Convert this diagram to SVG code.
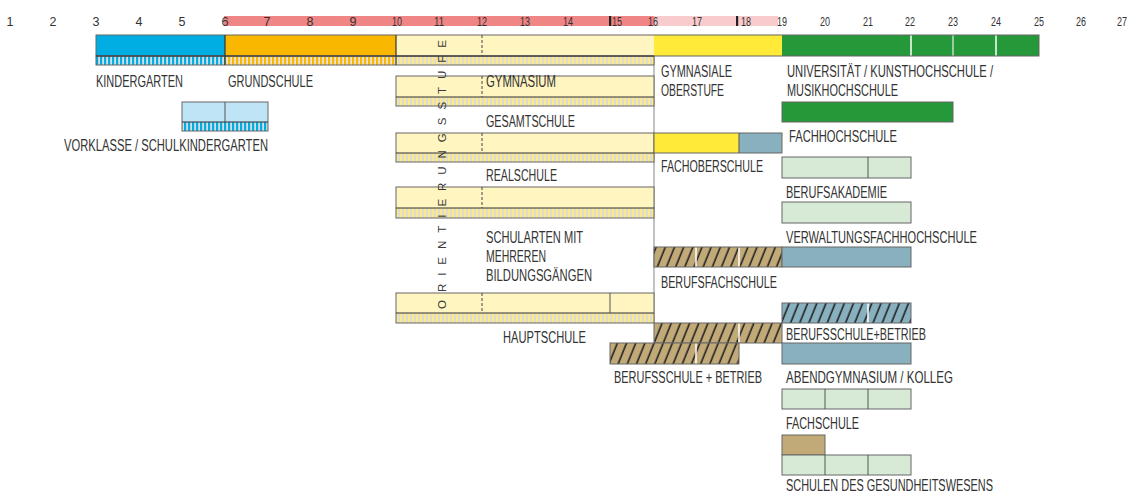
<svg xmlns="http://www.w3.org/2000/svg" width="1130" height="498" viewBox="0 0 1130 498">
<style>
.t{font-family:"Liberation Sans",Arial,sans-serif;font-size:16px;fill:#333}
.n{font-family:"Liberation Sans",Arial,sans-serif;font-size:12.5px;fill:#333;text-anchor:middle}
.o{font-family:"Liberation Sans",Arial,sans-serif;font-size:11.5px;fill:#3a3a3a}
.b{stroke:#666;stroke-width:1}
.sep{stroke:#333;stroke-width:1.2}
.dash{stroke:#444;stroke-width:1;stroke-dasharray:3 2}
.wd{stroke:#fff;stroke-width:1.5}
.dv{stroke:#555;stroke-width:1}
.pale{fill:#fff5c0}
.blue{fill:#00aee3}
.orange{fill:#f9b700}
.yel{fill:#ffea3a}
.green{fill:#25983a}
.bg{fill:#88b0bf}
.lg{fill:#d6ead6}
.br{fill:#c2aa78}
.lb{fill:#bfe4f6}
</style>
<defs>
<pattern id="sBlue" patternUnits="userSpaceOnUse" width="4" height="10"><rect width="4" height="10" fill="#d9dde0"/><rect width="2.2" height="10" fill="#00aee3"/></pattern>
<pattern id="sOrange" patternUnits="userSpaceOnUse" width="4" height="10"><rect width="4" height="10" fill="#e6e3dc"/><rect width="2.2" height="10" fill="#f9b700"/></pattern>
<pattern id="sYel" patternUnits="userSpaceOnUse" width="4" height="10"><rect width="4" height="10" fill="#dcdcd6"/><rect width="2.2" height="10" fill="#fbe98c"/></pattern>
<pattern id="hatch" patternUnits="userSpaceOnUse" width="8.5" height="8" patternTransform="rotate(22)"><line x1="4" y1="0" x2="4" y2="8" stroke="#222" stroke-width="1.6"/></pattern>
</defs>

<g id="ruler">
<rect x="224" y="16" width="430" height="10" fill="#ef8585"/>
<rect x="654" y="16" width="124" height="10" fill="#f8cccc"/>
<rect x="609" y="16" width="2.2" height="10" fill="#222"/>
<rect x="736" y="16" width="2.2" height="10" fill="#222"/>
<text class="n" x="10" y="26">1</text>
<text class="n" x="53" y="26">2</text>
<text class="n" x="96" y="26">3</text>
<text class="n" x="139" y="26">4</text>
<text class="n" x="182" y="26">5</text>
<text class="n" x="225" y="26">6</text>
<text class="n" x="267" y="26">7</text>
<text class="n" x="310" y="26">8</text>
<text class="n" x="353" y="26">9</text>
<text class="n" x="397" y="26" textLength="10" lengthAdjust="spacingAndGlyphs">10</text>
<text class="n" x="439" y="26" textLength="10" lengthAdjust="spacingAndGlyphs">11</text>
<text class="n" x="482" y="26" textLength="10" lengthAdjust="spacingAndGlyphs">12</text>
<text class="n" x="525" y="26" textLength="10" lengthAdjust="spacingAndGlyphs">13</text>
<text class="n" x="568" y="26" textLength="10" lengthAdjust="spacingAndGlyphs">14</text>
<text class="n" x="617" y="26" textLength="10" lengthAdjust="spacingAndGlyphs">15</text>
<text class="n" x="653" y="26" textLength="10" lengthAdjust="spacingAndGlyphs">16</text>
<text class="n" x="697" y="26" textLength="10" lengthAdjust="spacingAndGlyphs">17</text>
<text class="n" x="746" y="26" textLength="10" lengthAdjust="spacingAndGlyphs">18</text>
<text class="n" x="782" y="26" textLength="10" lengthAdjust="spacingAndGlyphs">19</text>
<text class="n" x="825" y="26" textLength="10" lengthAdjust="spacingAndGlyphs">20</text>
<text class="n" x="868" y="26" textLength="10" lengthAdjust="spacingAndGlyphs">21</text>
<text class="n" x="910" y="26" textLength="10" lengthAdjust="spacingAndGlyphs">22</text>
<text class="n" x="953" y="26" textLength="10" lengthAdjust="spacingAndGlyphs">23</text>
<text class="n" x="996" y="26" textLength="10" lengthAdjust="spacingAndGlyphs">24</text>
<text class="n" x="1039" y="26" textLength="10" lengthAdjust="spacingAndGlyphs">25</text>
<text class="n" x="1081" y="26" textLength="10" lengthAdjust="spacingAndGlyphs">26</text>
<text class="n" x="1122" y="26" textLength="10" lengthAdjust="spacingAndGlyphs">27</text>
</g>

<g id="lines">
<line x1="654" y1="35" x2="654" y2="323" stroke="#9a9a9a" stroke-width="1.2"/>
</g>

<g id="kindergarten">
<rect class="blue" x="96" y="35" width="129" height="21"/>
<rect x="96" y="56" width="129" height="9" fill="url(#sBlue)"/>
<text class="t" x="96" y="87" textLength="87" lengthAdjust="spacingAndGlyphs">KINDERGARTEN</text>
</g>
<g id="grundschule">
<rect class="orange" x="225" y="35" width="171" height="21"/>
<rect x="225" y="56" width="171" height="9" fill="url(#sOrange)"/>
<text class="t" x="228" y="87" textLength="85" lengthAdjust="spacingAndGlyphs">GRUNDSCHULE</text>
</g>
<g id="orientierung-main">
<rect class="pale" x="396" y="35" width="258" height="21"/>
<rect x="396" y="56" width="258" height="9" fill="url(#sYel)"/>
<line class="dash" x1="482" y1="35" x2="482" y2="56"/>
</g>
<g id="gymnasiale-oberstufe">
<rect class="yel" x="654" y="35" width="128" height="21"/>
<text class="t" x="661" y="77" textLength="71" lengthAdjust="spacingAndGlyphs">GYMNASIALE</text>
<text class="t" x="661" y="96" textLength="63" lengthAdjust="spacingAndGlyphs">OBERSTUFE</text>
</g>
<g id="universitaet">
<rect class="green" x="782" y="35" width="257" height="21"/>
<line class="wd" x1="911" y1="35" x2="911" y2="56"/>
<line class="wd" x1="953" y1="35" x2="953" y2="56" stroke-opacity="0.7"/>
<line class="wd" x1="996" y1="35" x2="996" y2="56"/>
<text class="t" x="787" y="77" textLength="206" lengthAdjust="spacingAndGlyphs">UNIVERSITÄT / KUNSTHOCHSCHULE /</text>
<text class="t" x="787" y="96" textLength="111" lengthAdjust="spacingAndGlyphs">MUSIKHOCHSCHULE</text>
</g>
<g id="mainbar-frame">
<rect x="96" y="35" width="943" height="21" fill="none" class="b"/>
<rect x="96" y="56" width="558" height="9" fill="none" class="b"/>
<line class="sep" x1="96" y1="56" x2="654" y2="56"/>
<line class="sep" x1="225" y1="35" x2="225" y2="65"/>
<line class="sep" x1="396" y1="35" x2="396" y2="65"/>
</g>

<g id="vorklasse">
<rect class="lb" x="182" y="102" width="86" height="20"/>
<rect x="182" y="122" width="86" height="9" fill="url(#sBlue)"/>
<rect x="182" y="102" width="86" height="29" fill="none" class="b"/>
<line class="dv" x1="225" y1="102" x2="225" y2="122"/>
<line class="sep" x1="182" y1="122" x2="268" y2="122"/>
<text class="t" x="64" y="151" textLength="204" lengthAdjust="spacingAndGlyphs">VORKLASSE / SCHULKINDERGARTEN</text>
</g>

<g id="gymnasium">
<rect class="pale" x="396" y="76" width="258" height="21"/>
<rect x="396" y="97" width="258" height="9" fill="url(#sYel)"/>
<rect x="396" y="76" width="258" height="30" fill="none" class="b"/>
<line class="sep" x1="396" y1="97" x2="654" y2="97"/>
<line class="dash" x1="482" y1="76" x2="482" y2="97"/>
<text class="t" x="486" y="87" textLength="70" lengthAdjust="spacingAndGlyphs">GYMNASIUM</text>
</g>
<g id="gesamtschule">
<rect class="pale" x="396" y="133" width="258" height="20"/>
<rect x="396" y="153" width="258" height="9" fill="url(#sYel)"/>
<rect x="396" y="133" width="258" height="29" fill="none" class="b"/>
<line class="sep" x1="396" y1="153" x2="654" y2="153"/>
<line class="dash" x1="482" y1="133" x2="482" y2="153"/>
<text class="t" x="486" y="127" textLength="89" lengthAdjust="spacingAndGlyphs">GESAMTSCHULE</text>
</g>
<g id="realschule">
<rect class="pale" x="396" y="187" width="258" height="21"/>
<rect x="396" y="208" width="258" height="10" fill="url(#sYel)"/>
<rect x="396" y="187" width="258" height="31" fill="none" class="b"/>
<line class="sep" x1="396" y1="208" x2="654" y2="208"/>
<line class="dash" x1="482" y1="187" x2="482" y2="208"/>
<text class="t" x="486" y="181" textLength="71" lengthAdjust="spacingAndGlyphs">REALSCHULE</text>
</g>
<g id="schularten">
<text class="t" x="486" y="243" textLength="97" lengthAdjust="spacingAndGlyphs">SCHULARTEN MIT</text>
<text class="t" x="486" y="262" textLength="60" lengthAdjust="spacingAndGlyphs">MEHREREN</text>
<text class="t" x="486" y="281" textLength="106" lengthAdjust="spacingAndGlyphs">BILDUNGSGÄNGEN</text>
</g>
<g id="hauptschule">
<rect class="pale" x="396" y="293" width="258" height="20"/>
<rect x="396" y="313" width="258" height="10" fill="url(#sYel)"/>
<rect x="396" y="293" width="258" height="30" fill="none" class="b"/>
<line class="sep" x1="396" y1="313" x2="654" y2="313"/>
<line class="dash" x1="482" y1="293" x2="482" y2="313"/>
<line class="dv" x1="610" y1="293" x2="610" y2="313"/>
<text class="t" x="503" y="343" textLength="83" lengthAdjust="spacingAndGlyphs">HAUPTSCHULE</text>
</g>

<g id="fachoberschule">
<rect class="yel" x="654" y="133" width="85" height="20"/>
<rect class="bg" x="739" y="133" width="43" height="20"/>
<rect x="654" y="133" width="128" height="20" fill="none" class="b"/>
<line class="dv" x1="739" y1="133" x2="739" y2="153"/>
<text class="t" x="661" y="172" textLength="102" lengthAdjust="spacingAndGlyphs">FACHOBERSCHULE</text>
</g>
<g id="fachhochschule">
<rect class="green b" x="782" y="102" width="171" height="20"/>
<text class="t" x="789" y="142" textLength="108" lengthAdjust="spacingAndGlyphs">FACHHOCHSCHULE</text>
</g>
<g id="berufsakademie">
<rect class="lg b" x="782" y="157" width="129" height="21"/>
<line class="dv" x1="868" y1="157" x2="868" y2="178"/>
<text class="t" x="786" y="198" textLength="101" lengthAdjust="spacingAndGlyphs">BERUFSAKADEMIE</text>
</g>
<g id="verwaltungsfachhochschule">
<rect class="lg b" x="782" y="202" width="129" height="21"/>
<text class="t" x="786" y="243" textLength="191" lengthAdjust="spacingAndGlyphs">VERWALTUNGSFACHHOCHSCHULE</text>
</g>
<g id="berufsfachschule">
<rect class="br" x="654" y="247" width="128" height="20"/>
<rect x="654" y="247" width="128" height="20" fill="url(#hatch)"/>
<line class="wd" x1="696" y1="247" x2="696" y2="267"/>
<line class="wd" x1="739" y1="247" x2="739" y2="267"/>
<rect x="654" y="247" width="128" height="20" fill="none" class="b"/>
<rect class="bg b" x="782" y="247" width="129" height="20"/>
<text class="t" x="661" y="288" textLength="116" lengthAdjust="spacingAndGlyphs">BERUFSFACHSCHULE</text>
</g>
<g id="berufsschule-betrieb-rechts">
<rect class="bg" x="782" y="303" width="129" height="20"/>
<rect x="782" y="303" width="129" height="20" fill="url(#hatch)"/>
<line class="wd" x1="868" y1="303" x2="868" y2="323"/>
<rect x="782" y="303" width="129" height="20" fill="none" class="b"/>
<text class="t" x="786" y="340" textLength="140" lengthAdjust="spacingAndGlyphs">BERUFSSCHULE+BETRIEB</text>
</g>
<g id="berufsschule-betrieb">
<rect class="br" x="654" y="323" width="128" height="20"/>
<rect x="654" y="323" width="128" height="20" fill="url(#hatch)"/>
<line class="wd" x1="739" y1="323" x2="739" y2="343"/>
<rect x="654" y="323" width="128" height="20" fill="none" class="b"/>
<rect class="br" x="610" y="343" width="129" height="21"/>
<rect x="610" y="343" width="129" height="21" fill="url(#hatch)"/>
<line class="wd" x1="696" y1="343" x2="696" y2="364"/>
<rect x="610" y="343" width="129" height="21" fill="none" class="b"/>
<text class="t" x="614" y="383" textLength="148" lengthAdjust="spacingAndGlyphs">BERUFSSCHULE + BETRIEB</text>
</g>
<g id="abendgymnasium">
<rect class="bg b" x="782" y="343" width="129" height="21"/>
<text class="t" x="786" y="383" textLength="167" lengthAdjust="spacingAndGlyphs">ABENDGYMNASIUM / KOLLEG</text>
</g>
<g id="fachschule">
<rect class="lg b" x="782" y="389" width="129" height="20"/>
<line class="dv" x1="825" y1="389" x2="825" y2="409"/>
<line class="dv" x1="868" y1="389" x2="868" y2="409"/>
<text class="t" x="786" y="429" textLength="73" lengthAdjust="spacingAndGlyphs">FACHSCHULE</text>
</g>
<g id="gesundheitswesen">
<rect class="br b" x="782" y="435" width="43" height="20"/>
<rect class="lg b" x="782" y="455" width="129" height="20"/>
<line class="dv" x1="825" y1="455" x2="825" y2="475"/>
<line class="dv" x1="868" y1="455" x2="868" y2="475"/>
<text class="t" x="786" y="491" textLength="207" lengthAdjust="spacingAndGlyphs">SCHULEN DES GESUNDHEITSWESENS</text>
</g>

<g id="orientierungsstufe">
<text class="o" transform="translate(446,309) rotate(-90)" x="0" y="0" textLength="269" lengthAdjust="spacing">ORIENTIERUNGSSTUFE</text>
</g>
</svg>
